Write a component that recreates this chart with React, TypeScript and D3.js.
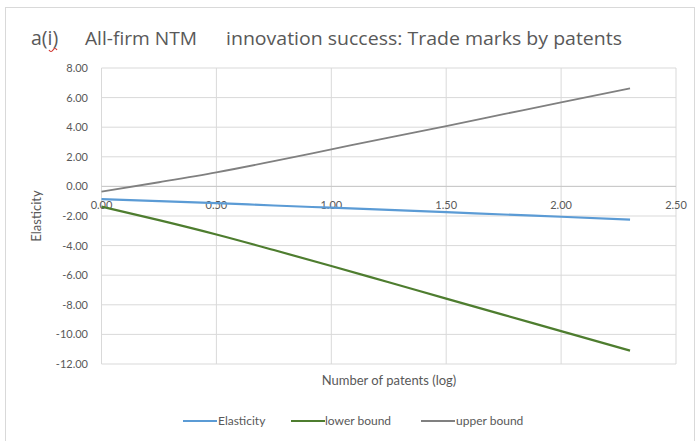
import React from "react";
import * as d3 from "d3";

const xValues = [0, 0.25, 0.5, 0.75, 1.0, 1.25, 1.5, 1.75, 2.0, 2.3];
const elasticity = [-0.86, -0.99, -1.13, -1.29, -1.44, -1.59, -1.74, -1.9, -2.05, -2.24];
const lowerBound = [-1.37, -2.28, -3.25, -4.3, -5.38, -6.48, -7.58, -8.68, -9.78, -11.1];
const upperBound = [-0.36, 0.28, 0.95, 1.7, 2.5, 3.3, 4.08, 4.88, 5.68, 6.63];

const xTicks = [0, 0.5, 1.0, 1.5, 2.0, 2.5];
const yTicks = [8, 6, 4, 2, 0, -2, -4, -6, -8, -10, -12];

const seriesNames = ["Elasticity", "lower bound", "upper bound"];
const seriesColors = ["#5b9bd5", "#4e7d2f", "#808080"];
const seriesWidths = [2.2, 2.2, 1.8];

const titlePrefix = "a(i)";
const titleMid = "All-firm NTM";
const titleRest = "innovation success: Trade marks by patents";
const xTitle = "Number of patents (log)";
const yTitle = "Elasticity";

const W = 699;
const H = 441;
const FONT = "Lato, 'Open Sans', sans-serif";
const TITLE_FONT = "'Open Sans', Lato, sans-serif";

const fmt = (v: number) => v.toFixed(2);

export default function App() {
  const x = d3.scaleLinear().domain([0, 2.5]).range([101.5, 676]);
  const y = d3.scaleLinear().domain([-12, 8]).range([364, 68]);
  const all = [elasticity, lowerBound, upperBound];
  const line = d3
    .line<[number, number]>()
    .x((d) => x(d[0]))
    .y((d) => y(d[1]))
    .curve(d3.curveMonotoneX);

  const legendItems = [
    { lx: 183, tx: 218 },
    { lx: 291, tx: 325 },
    { lx: 421, tx: 456 },
  ];

  return (
    <svg
      width={W}
      height={H}
      style={{ position: "absolute", left: 0, top: 0, background: "#fff" }}
      fontFamily={FONT}
    >
      <rect x={0} y={0} width={W} height={H} fill="#fff" />
      <rect x={5.5} y={7.5} width={689} height={440} fill="none" stroke="#d9d9d9" />

      {/* Title */}
      <g fontFamily={TITLE_FONT} fontSize={18} fill="#595959">
        <text x={31} y={45} fontSize={19.5}>
          {titlePrefix}
        </text>
        <text x={85} y={45} textLength={112} lengthAdjust="spacingAndGlyphs">
          {titleMid}
        </text>
        <text x={226} y={45} textLength={396} lengthAdjust="spacingAndGlyphs">
          {titleRest}
        </text>
      </g>
      <path
        d="M49,50 q2,3 4,0 q2,-3 4,0"
        fill="none"
        stroke="#d0302a"
        strokeWidth={1.2}
      />

      {/* Gridlines */}
      {yTicks.map((t) => (
        <line
          key={"gy" + t}
          x1={x(0)}
          x2={x(2.5)}
          y1={y(t)}
          y2={y(t)}
          stroke="#d9d9d9"
          strokeWidth={1}
        />
      ))}
      {xTicks.map((t) => (
        <line
          key={"gx" + t}
          x1={x(t)}
          x2={x(t)}
          y1={y(8)}
          y2={y(-12)}
          stroke="#d9d9d9"
          strokeWidth={1}
        />
      ))}
      <line x1={x(0)} x2={x(2.5)} y1={y(0)} y2={y(0)} stroke="#c8c8c8" strokeWidth={1} />

      {/* Y tick labels */}
      {yTicks.map((t) => (
        <text
          key={"ty" + t}
          x={88}
          y={y(t) + 4}
          fontSize={11}
          textAnchor="end"
          fill="#595959"
        >
          {fmt(t)}
        </text>
      ))}

      {/* X tick labels */}
      {xTicks.map((t) => (
        <text
          key={"tx" + t}
          x={x(t)}
          y={y(0) + 23}
          fontSize={11}
          textAnchor="middle"
          fill="#595959"
        >
          {fmt(t)}
        </text>
      ))}

      {/* Lines */}
      {all.map((vals, i) => (
        <path
          key={"s" + i}
          d={line(xValues.map((xv, j) => [xv, vals[j]]) as [number, number][]) || ""}
          fill="none"
          stroke={seriesColors[i]}
          strokeWidth={seriesWidths[i]}
        />
      ))}

      {/* Axis titles */}
      <text
        x={389}
        y={385}
        fontSize={13}
        textAnchor="middle"
        fill="#595959"
      >
        {xTitle}
      </text>
      <text
        transform={`translate(41,${(y(8) + y(-12)) / 2}) rotate(-90)`}
        fontSize={13}
        textAnchor="middle"
        fill="#595959"
      >
        {yTitle}
      </text>

      {/* Legend */}
      {seriesNames.map((n, i) => (
        <g key={"lg" + i}>
          <line
            x1={legendItems[i].lx}
            x2={legendItems[i].lx + 34}
            y1={421}
            y2={421}
            stroke={seriesColors[i]}
            strokeWidth={2.2}
          />
          <text x={legendItems[i].tx} y={425} fontSize={12} fill="#595959">
            {n}
          </text>
        </g>
      ))}
    </svg>
  );
}
